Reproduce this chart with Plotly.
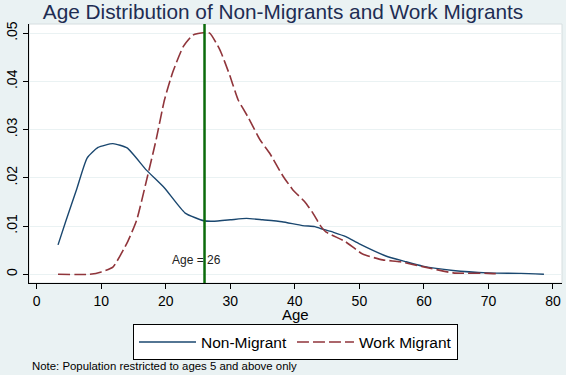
import plotly.graph_objects as go

# ---- data ----
nonmig_age = [3.3, 4.5, 6.2, 7.8, 9.5, 11.8, 14, 17, 19.8, 23, 25.9, 27.3, 30, 32.5, 35, 38,
              41.2, 43.1, 44, 46, 47.9, 50, 54.1, 57, 59.8, 64.5, 70, 75, 78.6]
nonmig_val = [0.0061, 0.0110, 0.0177, 0.0241, 0.0263, 0.0271, 0.0262, 0.0216, 0.0179, 0.0127,
              0.0111, 0.0110, 0.0113, 0.0116, 0.0113, 0.0109, 0.0101, 0.0099, 0.0095, 0.0087,
              0.0078, 0.0063, 0.0038, 0.0027, 0.0017, 0.0008, 0.0003, 0.0002, 0.0000]

work_age = [3.3, 8.2, 10, 11.8, 14.1, 15.5, 17, 18.5, 19.8, 21.1, 22.7, 24.2, 25.8, 26.8, 28.4,
            29.9, 31.2, 32.7, 34.6, 36.1, 38.1, 39.7, 41.5, 42.8, 43.9, 44.8, 47.8, 50.5, 53.6,
            56.3, 59.8, 64.5, 70, 71.8]
work_val = [0.0, 0.0, 0.0005, 0.0015, 0.0068, 0.0113, 0.0194, 0.0279, 0.0362, 0.0420, 0.0472,
            0.0496, 0.0501, 0.0500, 0.0465, 0.0413, 0.0362, 0.0327, 0.0279, 0.0251, 0.0205,
            0.0175, 0.0151, 0.0127, 0.0102, 0.0088, 0.0068, 0.0042, 0.0030, 0.0026, 0.0016,
            0.0003, 0.0002, 0.0001]

median_age = 26
x_ticks = [0, 10, 20, 30, 40, 50, 60, 70, 80]
y_ticks = [0, 0.01, 0.02, 0.03, 0.04, 0.05]
y_ticktext = ["0", ".01", ".02", ".03", ".04", ".05"]

title_text = "Age Distribution of Non-Migrants and Work Migrants"
note_text = "Note: Population restricted to ages 5 and above only"

FONT = "Liberation Sans, Arial, sans-serif"
BG = "#EAF2F3"

fig = go.Figure()
fig.add_trace(go.Scatter(x=nonmig_age, y=nonmig_val, mode="lines", name="Non-Migrant",
                         line=dict(color="#1A476F", width=1.4, shape="spline", smoothing=0.5)))
fig.add_trace(go.Scatter(x=work_age, y=work_val, mode="lines", name="Work Migrant",
                         line=dict(color="#90353B", width=1.6, dash="12px,4px",
                                   shape="spline", smoothing=0.5)))

fig.add_shape(type="line", xref="x", yref="y domain", x0=median_age, x1=median_age, y0=0, y1=1,
              line=dict(color="#0B6B0B", width=2.5))
fig.add_annotation(x=median_age - 1.2, y=0.003, xref="x", yref="y",
                   text="Age = %d" % median_age, showarrow=False,
                   font=dict(family=FONT, size=12, color="#222222"))

# plot region outline (light)
fig.add_shape(type="rect", xref="paper", yref="paper", x0=0, x1=1, y0=0, y1=1,
              line=dict(color="#D6DEE0", width=1), layer="below")

fig.add_annotation(x=0.5, y=-0.122, xref="paper", yref="paper", text="Age", showarrow=False,
                   font=dict(family=FONT, size=15, color="#000000"), yanchor="middle")
fig.add_annotation(x=0.002, y=-0.320, xref="paper", yref="paper", text=note_text, showarrow=False,
                   xanchor="left", yanchor="middle",
                   font=dict(family=FONT, size=11.4, color="#000000"))

fig.update_layout(
    width=566, height=375,
    margin=dict(l=29, r=4, t=24, b=92, autoexpand=False),
    paper_bgcolor=BG, plot_bgcolor="white",
    title=dict(text=title_text, x=0.5, xanchor="center", y=1 - 12 / 375, yanchor="middle",
               font=dict(family=FONT, size=20.8, color="#1E2D53")),
    font=dict(family=FONT, color="#000000"),
    showlegend=True,
    legend=dict(orientation="h", x=0.5, xanchor="center", y=-0.16, yanchor="top",
                bgcolor="white", bordercolor="#000000", borderwidth=1,
                font=dict(family=FONT, size=15.5, color="#000000"), itemwidth=57,
                tracegroupgap=0),
)
fig.update_xaxes(range=[-1.2, 81.4], tickvals=x_ticks, showgrid=False, zeroline=False,
                 showline=True, linecolor="#000000", linewidth=1, automargin=False,
                 ticks="outside", ticklen=5, tickcolor="#000000",
                 tickfont=dict(family=FONT, size=14, color="#000000"))
fig.update_yaxes(range=[-0.0018, 0.0519], tickvals=y_ticks, ticktext=y_ticktext, tickangle=-90,
                 showgrid=True, gridcolor=BG, gridwidth=1, zeroline=False,
                 showline=True, linecolor="#000000", linewidth=1, automargin=False,
                 ticks="outside", ticklen=5, tickcolor="#000000",
                 tickfont=dict(family=FONT, size=14, color="#000000"))

fig.write_html("out.html", config={"displayModeBar": False},
               post_script="document.body.style.margin='0px';")
